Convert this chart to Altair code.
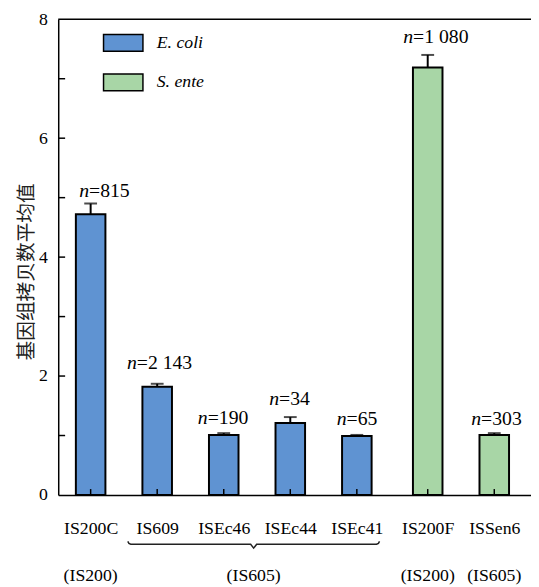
import json
import altair as alt
import pandas as pd

# ---------------- data ----------------
categories = ["IS200C", "IS609", "ISEc46", "ISEc44", "ISEc41", "IS200F", "ISSen6"]
species = ["E. coli", "E. coli", "E. coli", "E. coli", "E. coli", "S. ente", "S. ente"]
families = ["IS200", "IS605", "IS605", "IS605", "IS605", "IS200", "IS605"]
means = [4.72, 1.82, 1.01, 1.21, 0.99, 7.19, 1.01]
errors = [0.18, 0.05, 0.03, 0.10, 0.02, 0.21, 0.03]
counts = ["815", "2 143", "190", "34", "65", "1 080", "303"]
y_major = [0, 2, 4, 6, 8]
y_minor = [1, 2, 3, 4, 5, 6, 7]
species_names = ["E. coli", "S. ente"]
species_colors = ["#5f93d2", "#a8d6a6"]
y_title = "基因组拷贝数平均值"

# ---------------- layout ----------------
W, H = 480, 483
XMIN, XMAX = -0.413, 6.543
YMIN, YMAX = 0, 8
PX_X = W / (XMAX - XMIN)
PX_Y = H / (YMAX - YMIN)
GROUP_GAP = 0.065
SERIF = "Liberation Serif"

pos = [i + (GROUP_GAP if s == "S. ente" else 0.0) for i, s in enumerate(species)]
tops = [m + e for m, e in zip(means, errors)]

# label nudges (dx px, gap px above cap)
nudge = {"IS200C": (14, 7), "IS609": (2, 15), "ISEc46": (-1, 9), "ISEc44": (-1, 12),
         "ISEc41": (0, 10), "IS200F": (8, 12), "ISSen6": (2, 8)}
cw = {" ": 5.0, "=": 11.28}
def text_w(s):
    return sum(cw.get(c, 10.0) for c in s)

rows = []
for c, sp, p, m, t, n in zip(categories, species, pos, means, tops, counts):
    dx, gap = nudge[c]
    rest = "=" + n
    total = 10.0 + text_w(rest)
    split_px = dx - total / 2 + 10.0
    rows.append(dict(category=c, species=sp, pos=p, mean=m, top=t,
                     rest=rest, nlab="n",
                     lx=p + split_px / PX_X, ly=t + gap / PX_Y))
df = pd.DataFrame(rows)

xs = alt.Scale(domain=[XMIN, XMAX], nice=False, zero=False)
ys = alt.Scale(domain=[YMIN, YMAX], nice=False)

label_expr = json.dumps(categories) + "[round(datum.value)]"
x_axis = alt.Axis(values=pos, labelExpr=label_expr, title=None, grid=False,
                  ticks=False, tickSize=0, domain=True, domainColor="black",
                  domainWidth=1.5, labelPadding=25, labelFont=SERIF,
                  labelFontSize=18, labelColor="black", labelFlush=False,
                  labelOverlap=False)
y_axis = alt.Axis(values=y_major, format="d", title=y_title, grid=False, ticks=False,
                  tickSize=0, domain=True, domainColor="black", domainWidth=1.5,
                  labelPadding=11, labelFont=SERIF, labelFontSize=18,
                  labelColor="black", titleFont="Noto Sans CJK SC",
                  titleFontSize=20, titleFontWeight="normal", titleColor="#222222",
                  titleAngle=270, titleX=-32, titleY=256, titleAlign="center",
                  titleBaseline="middle")

base = alt.Chart(df)

bars = base.mark_bar(size=30, stroke="black", strokeWidth=2).encode(
    x=alt.X("pos:Q", scale=xs, axis=x_axis),
    y=alt.Y("mean:Q", scale=ys, axis=y_axis),
    color=alt.Color("species:N",
                    scale=alt.Scale(domain=species_names, range=species_colors),
                    legend=alt.Legend(title=None, orient="none", legendX=45,
                                      legendY=3, symbolType="M-1,-0.425H1V0.425H-1Z",
                                      symbolSize=1600, symbolStrokeColor="black",
                                      symbolStrokeWidth=1.5, symbolOpacity=1,
                                      labelFont=SERIF, labelFontStyle="italic",
                                      labelFontSize=18, labelColor="black",
                                      labelOffset=13, rowPadding=7, padding=0,
                                      offset=0)),
)

err = base.mark_rule(color="black", strokeWidth=2).encode(
    x="pos:Q", y="mean:Q", y2="top:Q")
caps = base.mark_tick(orient="horizontal", size=13, thickness=2, color="black").encode(
    x="pos:Q", y="top:Q")

n_italic = base.mark_text(font=SERIF, fontSize=20, fontStyle="italic", align="right",
                          baseline="alphabetic", color="black").encode(
    x="lx:Q", y="ly:Q", text="nlab:N")
n_rest = base.mark_text(font=SERIF, fontSize=20, align="left",
                        baseline="alphabetic", color="black").encode(
    x="lx:Q", y="ly:Q", text="rest:N")

# inward ticks
xt = base.mark_rule(color="black", strokeWidth=1.5).encode(
    x="pos:Q", y=alt.value(H), y2=alt.value(H - 6))
yt = alt.Chart(pd.DataFrame({"v": y_minor})).mark_rule(color="black", strokeWidth=1.5).encode(
    y=alt.Y("v:Q", scale=ys), x=alt.value(0), x2=alt.value(7))
top_line = alt.Chart(pd.DataFrame({"v": [YMAX]})).mark_rule(color="black", strokeWidth=1.5).encode(
    y=alt.Y("v:Q", scale=ys), x=alt.value(0), x2=alt.value(W))

# brace under the IS605 group of E. coli
b0, b1 = 0.558, 4.341
bm = (b0 + b1) / 2
brace_df = pd.DataFrame({
    "x": [b0, b0 + 0.017, b0 + 0.045, bm - 0.045, bm, bm + 0.045, b1 - 0.045, b1 - 0.017, b1],
    "y": [-0.78, -0.815, -0.828, -0.828, -0.894, -0.828, -0.828, -0.815, -0.78],
    "o": list(range(9)),
})
brace = alt.Chart(brace_df).mark_line(color="#222222", strokeWidth=1.5).encode(
    x=alt.X("x:Q", scale=xs), y=alt.Y("y:Q", scale=ys), order="o:O")

grp_df = pd.DataFrame({
    "x": [pos[0], bm, pos[5], pos[6]],
    "t": ["(" + families[0] + ")", "(" + families[1] + ")",
          "(" + families[5] + ")", "(" + families[6] + ")"],
    "y": [-1.365] * 4,
})
grp = alt.Chart(grp_df).mark_text(font=SERIF, fontSize=18, baseline="middle",
                                  align="center", color="black").encode(
    x=alt.X("x:Q", scale=xs), y=alt.Y("y:Q", scale=ys), text="t:N")

chart = alt.layer(bars, err, caps, n_italic, n_rest, xt, yt, top_line, brace, grp).properties(
    width=W, height=H,
    autosize=alt.AutoSizeParams(type="none"),
    padding={"left": 51, "top": 7, "right": 0, "bottom": 89},
).configure_view(stroke=None)

chart.save("out.html", embed_options={"renderer": "svg", "actions": False})
